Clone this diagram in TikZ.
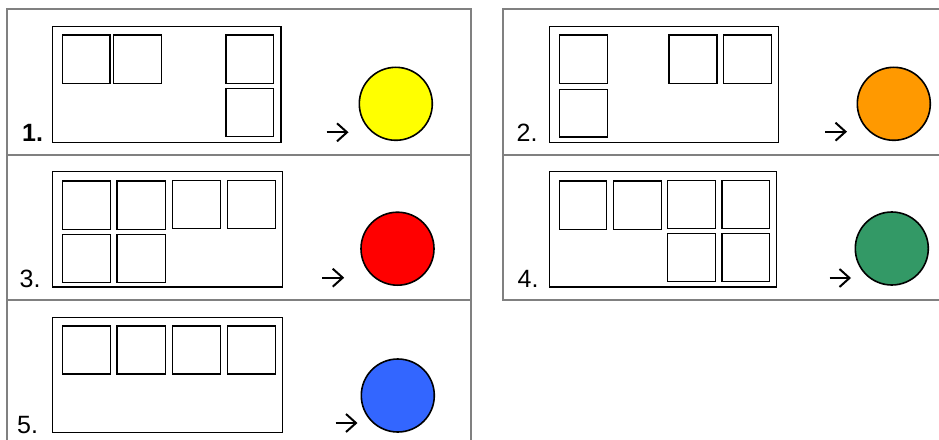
\documentclass[tikz,border=0pt]{standalone}
\usepackage{fontspec}
\setmainfont{Liberation Sans}
\usetikzlibrary{arrows.meta}
\definecolor{framegray}{HTML}{808080}
\definecolor{cyellow}{HTML}{FFFF00}
\definecolor{corange}{HTML}{FF9900}
\definecolor{cred}{HTML}{FF0000}
\definecolor{cgreen}{HTML}{339966}
\definecolor{cblue}{HTML}{3366FF}
\tikzset{
  frame/.style={draw=framegray, line width=2pt},
  card/.style={draw=black, line width=1.4pt},
  slot/.style={draw=black, line width=1.2pt},
  numlabel/.style={anchor=base west, inner sep=0pt, font=\fontsize{25}{25}\selectfont},
  pointer/.style={draw=black, line width=2pt, -{Straight Barb[length=10pt,width=18pt,line width=2pt]}},
  dot/.style={circle, draw=black, line width=1.6pt, minimum size=73pt, inner sep=0pt},
}
\begin{document}
\begin{tikzpicture}[x=1pt,y=-1pt]
\useasboundingbox (0,0) rectangle (939,439);
\clip (0,0) rectangle (939,439);
\fill[white] (0,0) rectangle (939,439);
% frames
\draw[frame] (7,9) rectangle (471,155);
\draw[frame] (7,155) rectangle (471,300);
\draw[frame] (7,300) rectangle (471,460);
\draw[frame] (503,9) rectangle (980,155);
\draw[frame] (503,155) rectangle (980,300);

% panel 1
\draw[card] (52.7,26.3) rectangle (281,142.3);
\draw[slot] (62.3,35) rectangle (110,83.3);
\draw[slot] (113.7,35) rectangle (161.7,83.3);
\draw[slot] (226,35) rectangle (273.7,83.3);
\draw[slot] (226,88.3) rectangle (273.7,136.3);
\node[numlabel, font=\fontsize{25}{25}\selectfont\bfseries] (l1) at (22,141.7) {1.};
\draw[pointer] (326.5,132.3) -- (348.5,132.3);
\node[dot, fill=cyellow] (c1) at (395.8,103.8) {};

% panel 2
\draw[card] (549.3,26.3) rectangle (778.3,142.3);
\draw[slot] (559.3,35) rectangle (607.3,83.3);
\draw[slot] (559.3,89.3) rectangle (607.3,137);
\draw[slot] (669,35) rectangle (717,83.3);
\draw[slot] (723.3,35) rectangle (771.3,83.3);
\node[numlabel] (l2) at (516.5,141.7) {2.};
\draw[pointer] (825.2,131.7) -- (847,131.7);
\node[dot, fill=corange] (c2) at (893.8,103.8) {};

% panel 3
\draw[card] (52.7,171.3) rectangle (282.3,287);
\draw[slot] (62.3,181) rectangle (110.3,229.3);
\draw[slot] (117,181) rectangle (165.7,229.3);
\draw[slot] (172.3,180.3) rectangle (220.3,228.3);
\draw[slot] (227.3,180.3) rectangle (275.3,228.3);
\draw[slot] (62.3,234.3) rectangle (110.3,282.3);
\draw[slot] (117,234.3) rectangle (165.7,282.3);
\node[numlabel] (l3) at (19.5,287.5) {3.};
\draw[pointer] (322.2,277.7) -- (344.2,277.7);
\node[dot, fill=cred] (c3) at (397.5,248.7) {};

% panel 4
\draw[card] (549.3,171.3) rectangle (776.7,287);
\draw[slot] (559.3,181) rectangle (606.7,229.3);
\draw[slot] (613.3,181) rectangle (661.3,229.3);
\draw[slot] (667.3,180.3) rectangle (715.3,228.3);
\draw[slot] (722,180.3) rectangle (769.3,228.3);
\draw[slot] (667.3,233.3) rectangle (715.3,281.3);
\draw[slot] (722,233.3) rectangle (769.3,281.3);
\node[numlabel] (l4) at (517.5,287.5) {4.};
\draw[pointer] (829.5,278) -- (851,278);
\node[dot, fill=cgreen] (c4) at (891.8,248.5) {};

% panel 5
\draw[card] (52.3,317.3) rectangle (282.3,432.3);
\draw[slot] (62.3,326) rectangle (110.3,374);
\draw[slot] (117,326) rectangle (165.7,374);
\draw[slot] (172.3,326) rectangle (220.7,374);
\draw[slot] (227.3,326) rectangle (275.3,374);
\node[numlabel] (l5) at (17,433.3) {5.};
\draw[pointer] (335.5,423) -- (357.5,423);
\node[dot, fill=cblue] (c5) at (397.8,395.5) {};
\end{tikzpicture}
\end{document}
